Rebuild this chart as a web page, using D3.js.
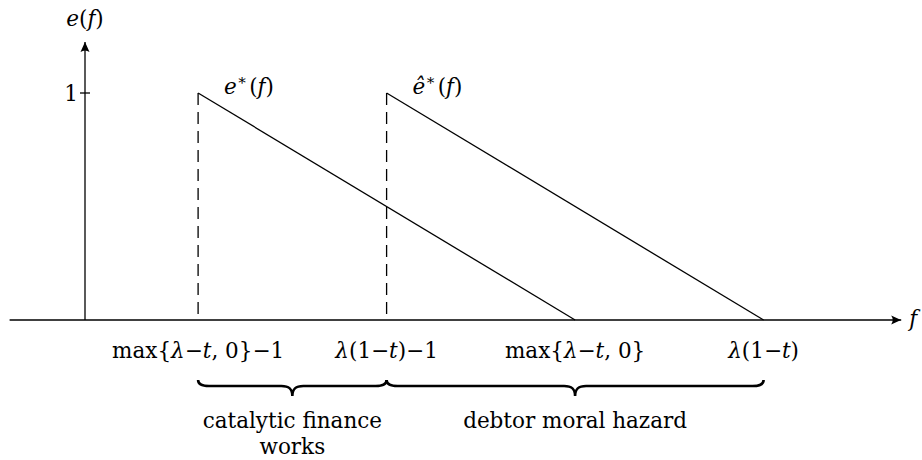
<!DOCTYPE html>
<html>
<head>
<meta charset="utf-8">
<script src="https://cdn.jsdelivr.net/npm/d3@7"></script>
<style>
  body { margin: 0; background: #fff; }
</style>
</head>
<body>
<svg id="chart"></svg>
<script>
// Positions on the f axis (arbitrary units) and their labels
const xTickValues = [0.3, 0.8, 1.3, 1.8];
const xTickLabels = ["max{λ−t, 0}−1", "λ(1−t)−1", "max{λ−t, 0}", "λ(1−t)"];

// y tick
const yTickValues = [1];
const yTickLabels = ["1"];

// Effort curves
const eStar = [{ f: 0.3, e: 1 }, { f: 1.3, e: 0 }];
const eHat = [{ f: 0.8, e: 1 }, { f: 1.8, e: 0 }];
const curveLabels = ["e*(f)", "ê*(f)"];

// Dashed drop lines
const dropLines = [0.3, 0.8];

// Regions marked by braces
const braceFrom = [0.3, 0.8];
const braceTo = [0.8, 1.8];
const braceLabels = [["catalytic finance", "works"], ["debtor moral hazard"]];

// Axis extents
const xExtent = [-0.2, 2.165];
const yExtent = [0, 1.225];

const width = 922;
const height = 460;
const fontFamily = "'DejaVu Serif', serif";
const fontSize = "21.5px";

const xScale = d3.scaleLinear().domain([0, 1]).range([85, 462]);
const yScale = d3.scaleLinear().domain([0, 1]).range([320, 93]);

const svg = d3
  .select("#chart")
  .attr("width", width)
  .attr("height", height)
  .attr("font-family", fontFamily)
  .attr("font-size", fontSize);

// Italic letters (math variables)
const italicChars = new Set(["λ", "t", "e", "f", "ê"]);
function mathText(sel, str) {
  const runs = [];
  for (const ch of str) {
    const it = italicChars.has(ch);
    if (runs.length && runs[runs.length - 1].it === it) runs[runs.length - 1].s += ch;
    else runs.push({ s: ch, it: it });
  }
  runs.forEach((r) => {
    const parts = r.s.split("*");
    parts.forEach((p, i) => {
      if (p) sel.append("tspan").attr("font-style", r.it ? "italic" : "normal").text(p);
      if (i < parts.length - 1) {
        sel.append("tspan").attr("font-size", "15px").attr("font-style", "normal").attr("dy", -9).text("∗");
        sel.append("tspan").attr("dy", 9).text("\u200a");
      }
    });
  });
}

// Arrow head
svg
  .append("defs")
  .append("marker")
  .attr("id", "arrow")
  .attr("viewBox", "0 -5 10 10")
  .attr("refX", 10)
  .attr("refY", 0)
  .attr("markerWidth", 10)
  .attr("markerHeight", 10)
  .attr("markerUnits", "userSpaceOnUse")
  .attr("orient", "auto")
  .append("path")
  .attr("d", "M10,0 L0,-4.5 Q3,0 0,4.5 Z")
  .attr("fill", "#000");

// Axes
svg
  .append("line")
  .attr("x1", xScale(xExtent[0]))
  .attr("x2", xScale(xExtent[1]))
  .attr("y1", yScale(0))
  .attr("y2", yScale(0))
  .attr("stroke", "#000")
  .attr("stroke-width", 1.3)
  .attr("marker-end", "url(#arrow)");

svg
  .append("line")
  .attr("x1", xScale(0))
  .attr("x2", xScale(0))
  .attr("y1", yScale(yExtent[0]))
  .attr("y2", yScale(yExtent[1]))
  .attr("stroke", "#000")
  .attr("stroke-width", 1.3)
  .attr("marker-end", "url(#arrow)");

// Axis names
mathText(
  svg.append("text").attr("x", xScale(0)).attr("y", 26).attr("text-anchor", "middle"),
  "e(f)"
);
mathText(
  svg.append("text").attr("x", xScale(xExtent[1]) + 8).attr("y", yScale(0) + 6),
  "f"
);

// y tick
yTickValues.forEach((v, i) => {
  svg
    .append("line")
    .attr("x1", xScale(0) - 5)
    .attr("x2", xScale(0) + 5)
    .attr("y1", yScale(v))
    .attr("y2", yScale(v))
    .attr("stroke", "#000")
    .attr("stroke-width", 1.3);
  svg
    .append("text")
    .attr("x", xScale(0) - 7)
    .attr("y", yScale(v) + 8)
    .attr("text-anchor", "end")
    .text(yTickLabels[i]);
});

// x tick labels
xTickValues.forEach((v, i) => {
  mathText(
    svg.append("text").attr("x", xScale(v)).attr("y", 358).attr("text-anchor", "middle"),
    xTickLabels[i]
  );
});

// Dashed drop lines
svg
  .selectAll(".drop")
  .data(dropLines)
  .enter()
  .append("line")
  .attr("class", "drop")
  .attr("x1", (d) => xScale(d))
  .attr("x2", (d) => xScale(d))
  .attr("y1", yScale(1))
  .attr("y2", yScale(0))
  .attr("stroke", "#000")
  .attr("stroke-width", 1.3)
  .attr("stroke-dasharray", "12,7");

// Effort lines
const line = d3
  .line()
  .x((d) => xScale(d.f))
  .y((d) => yScale(d.e));

[eStar, eHat].forEach((series, i) => {
  svg
    .append("path")
    .datum(series)
    .attr("d", line)
    .attr("fill", "none")
    .attr("stroke", "#000")
    .attr("stroke-width", 1.3);

  mathText(
    svg.append("text").attr("x", xScale(series[0].f) + 26).attr("y", yScale(series[0].e) + 1),
    curveLabels[i]
  );
});

// Braces
function bracePath(x1, x2, y) {
  const mid = (x1 + x2) / 2;
  const b = y + 6;
  const tip = y + 16;
  return (
    `M${x1},${y} C${x1},${b - 2} ${x1 + 4},${b} ${x1 + 11},${b} ` +
    `L${mid - 11},${b} C${mid - 4},${b} ${mid},${b + 2} ${mid},${tip} ` +
    `C${mid},${b + 2} ${mid + 4},${b} ${mid + 11},${b} ` +
    `L${x2 - 11},${b} C${x2 - 4},${b} ${x2},${b - 2} ${x2},${y}`
  );
}

braceFrom.forEach((from, i) => {
  const x1 = xScale(from);
  const x2 = xScale(braceTo[i]);
  svg
    .append("path")
    .attr("d", bracePath(x1, x2, 380))
    .attr("fill", "none")
    .attr("stroke", "#000")
    .attr("stroke-width", 2.6);

  const t = svg
    .append("text")
    .attr("x", (x1 + x2) / 2)
    .attr("y", 428)
    .attr("text-anchor", "middle");
  braceLabels[i].forEach((s, j) => {
    t.append("tspan")
      .attr("x", (x1 + x2) / 2)
      .attr("dy", j === 0 ? 0 : 26)
      .text(s);
  });
});
</script>
</body>
</html>
